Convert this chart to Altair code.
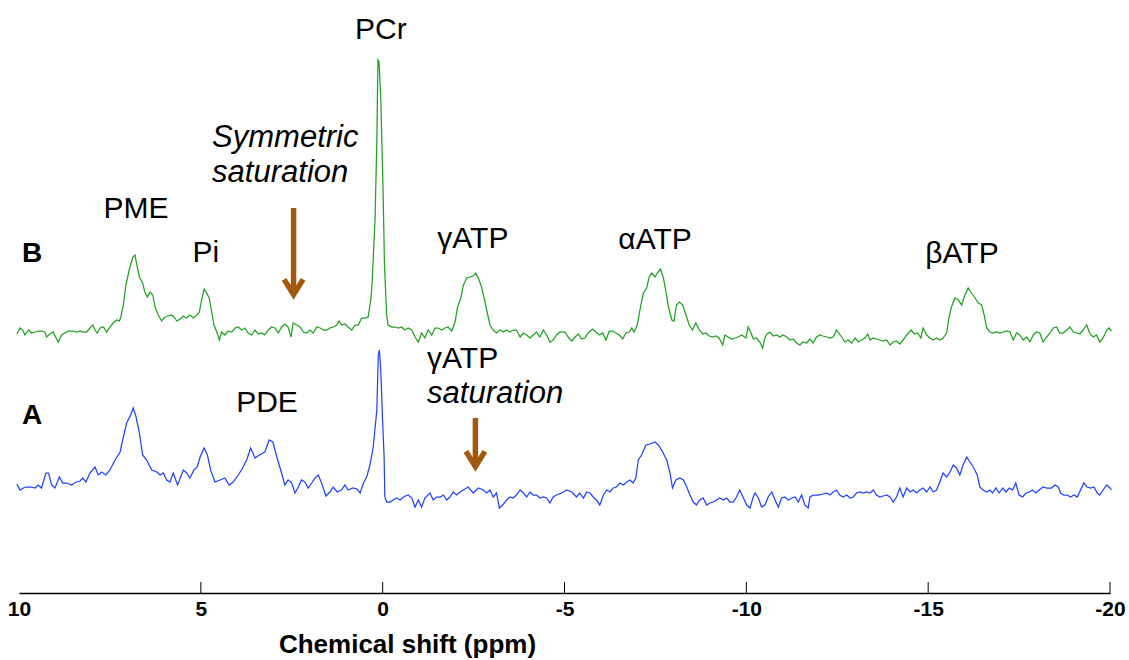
import altair as alt
import pandas as pd

# 31P spectra: chemical shift (ppm) and signal (a.u., baseline-referenced)
green_ppm = [
    10.06, 9.97, 9.88, 9.84, 9.74, 9.65, 9.56, 9.47, 9.38, 9.29,
    9.24, 9.15, 9.06, 8.98, 8.92, 8.83, 8.74, 8.64, 8.51, 8.41,
    8.32, 8.23, 8.14, 8.05, 7.97, 7.91, 7.85, 7.77, 7.68, 7.59,
    7.50, 7.41, 7.31, 7.24, 7.20, 7.13, 7.06, 6.97, 6.87, 6.81,
    6.76, 6.69, 6.60, 6.54, 6.47, 6.40, 6.32, 6.26, 6.17, 6.08,
    5.99, 5.90, 5.80, 5.74, 5.66, 5.57, 5.48, 5.39, 5.30, 5.21,
    5.11, 5.04, 4.98, 4.91, 4.84, 4.77, 4.70, 4.64, 4.56, 4.49,
    4.43, 4.34, 4.25, 4.15, 4.06, 3.97, 3.88, 3.79, 3.70, 3.60,
    3.51, 3.42, 3.33, 3.24, 3.15, 3.05, 2.96, 2.87, 2.78, 2.69,
    2.60, 2.52, 2.46, 2.36, 2.27, 2.18, 2.09, 2.00, 1.91, 1.81,
    1.72, 1.63, 1.54, 1.45, 1.36, 1.26, 1.20, 1.13, 1.04, 0.95,
    0.85, 0.76, 0.67, 0.58, 0.49, 0.40, 0.32, 0.29, 0.21, 0.16,
    0.13, 0.10, 0.05, -0.01, -0.05, -0.11, -0.15, -0.25, -0.34, -0.43,
    -0.52, -0.61, -0.70, -0.80, -0.89, -0.98, -1.07, -1.16, -1.25, -1.35,
    -1.44, -1.53, -1.62, -1.71, -1.80, -1.90, -1.99, -2.06, -2.15, -2.22,
    -2.31, -2.40, -2.49, -2.56, -2.63, -2.72, -2.79, -2.86, -2.95, -3.04,
    -3.13, -3.23, -3.32, -3.41, -3.50, -3.59, -3.68, -3.78, -3.87, -3.96,
    -4.05, -4.14, -4.23, -4.32, -4.42, -4.51, -4.60, -4.69, -4.78, -4.87,
    -5.01, -5.10, -5.20, -5.29, -5.38, -5.47, -5.56, -5.65, -5.77, -5.86,
    -5.96, -6.05, -6.14, -6.23, -6.32, -6.41, -6.51, -6.60, -6.69, -6.78,
    -6.85, -6.91, -7.00, -7.09, -7.17, -7.26, -7.33, -7.40, -7.49, -7.55,
    -7.64, -7.72, -7.79, -7.86, -7.95, -8.01, -8.08, -8.16, -8.25, -8.34,
    -8.43, -8.52, -8.61, -8.71, -8.80, -8.89, -8.98, -9.07, -9.16, -9.25,
    -9.35, -9.41, -9.50, -9.60, -9.69, -9.78, -9.87, -9.99, -10.05, -10.12,
    -10.19, -10.28, -10.37, -10.45, -10.51, -10.57, -10.65, -10.74, -10.83, -10.92,
    -11.01, -11.11, -11.20, -11.29, -11.38, -11.47, -11.56, -11.66, -11.75, -11.84,
    -11.93, -12.02, -12.11, -12.21, -12.30, -12.39, -12.48, -12.62, -12.71, -12.80,
    -12.90, -12.99, -13.08, -13.17, -13.26, -13.34, -13.40, -13.49, -13.58, -13.67,
    -13.76, -13.86, -13.95, -14.04, -14.13, -14.22, -14.31, -14.41, -14.53, -14.62,
    -14.71, -14.80, -14.86, -14.96, -15.05, -15.14, -15.23, -15.32, -15.41, -15.51,
    -15.57, -15.64, -15.74, -15.83, -15.92, -16.01, -16.10, -16.19, -16.29, -16.38,
    -16.47, -16.54, -16.61, -16.70, -16.79, -16.88, -16.97, -17.06, -17.16, -17.25,
    -17.34, -17.43, -17.52, -17.61, -17.71, -17.80, -17.89, -17.98, -18.07, -18.16,
    -18.26, -18.35, -18.44, -18.53, -18.62, -18.71, -18.81, -18.90, -18.99, -19.08,
    -19.17, -19.26, -19.36, -19.45, -19.54, -19.63, -19.72, -19.81, -19.91, -19.97,
    -20.04,
]
green_int = [
    -4, 2, -1, -5, 0, -3, -2, -1, -1, -2,
    -7, -4, -2, -8, -12, -5, -3, -1, -1, -2,
    -1, -2, -2, 2, 5, 0, -3, 2, 3, -2,
    3, 7, 10, 9, 13, 25, 45, 60, 73, 75,
    65, 53, 47, 38, 33, 38, 35, 23, 15, 9,
    13, 14, 15, 13, 9, 11, 14, 12, 15, 12,
    15, 18, 30, 41, 37, 32, 18, 5, -2, -10,
    -2, -5, -1, -2, 2, 3, 0, 2, -3, -5,
    0, -4, -3, -5, 0, 3, 2, -3, 3, 6,
    3, -7, 7, 5, 3, -2, -3, 0, -3, 3,
    2, 0, 0, 2, 3, 5, 9, 5, 6, 3,
    0, 5, 5, 12, 12, 13, 32, 48, 110, 190,
    270, 268, 230, 140, 65, 15, 5, 3, 3, 2,
    3, 0, 2, 0, -7, -12, -3, -8, 0, -5,
    2, 2, 0, 2, 3, -1, 8, 23, 32, 45,
    52, 53, 54, 57, 52, 43, 32, 20, 5, 0,
    -3, 0, -2, 0, -2, 0, 0, -7, -3, -5,
    -8, -5, -2, -7, 0, -5, -12, -10, -5, -2,
    -2, -7, -11, -7, -4, -9, -8, -3, 1, -2,
    -5, -3, -10, -1, -1, -3, -5, -9, -3, -2,
    2, -2, 5, 23, 37, 42, 53, 57, 53, 57,
    61, 52, 38, 23, 10, 9, 25, 28, 25, 15,
    5, 0, 7, 0, -4, -3, -6, -7, -6, -8,
    -15, -5, -7, -9, -8, -7, -5, -8, 3, -2,
    -9, -8, -12, -18, -8, -4, -2, -6, -5, -7,
    -5, -7, -10, -9, -13, -15, -12, -13, -9, -13,
    -7, -5, -6, -7, -8, -7, 0, -7, -12, -10,
    -13, -8, -12, -10, -8, -4, -10, -8, -9, -10,
    -11, -10, -15, -12, -11, -14, -10, -5, 0, -4,
    -3, -8, 2, -5, -8, -10, -8, -10, -8, -3,
    12, 23, 32, 30, 25, 35, 42, 37, 32, 27,
    25, 15, 2, -2, -3, -2, -3, -2, -1, -2,
    -10, -3, -5, -10, -7, -12, -5, -2, -3, -12,
    -7, -3, 2, 3, -3, -3, 0, 3, -2, -3,
    -4, 0, 5, -4, -7, -5, -12, -8, 0, 2,
    -1,
]

blue_ppm = [
    10.06, 9.97, 9.88, 9.79, 9.65, 9.56, 9.47, 9.38, 9.26, 9.19,
    9.10, 9.01, 8.89, 8.80, 8.69, 8.55, 8.43, 8.32, 8.25, 8.16,
    8.05, 7.91, 7.82, 7.73, 7.61, 7.50, 7.36, 7.22, 7.15, 7.04,
    6.93, 6.86, 6.78, 6.69, 6.60, 6.49, 6.35, 6.21, 6.12, 6.03,
    5.94, 5.85, 5.76, 5.64, 5.48, 5.39, 5.30, 5.19, 5.10, 5.02,
    4.91, 4.82, 4.73, 4.61, 4.47, 4.34, 4.22, 4.11, 3.97, 3.85,
    3.74, 3.63, 3.51, 3.39, 3.24, 3.12, 3.02, 2.91, 2.78, 2.69,
    2.60, 2.50, 2.41, 2.32, 2.23, 2.14, 2.05, 1.95, 1.86, 1.77,
    1.68, 1.56, 1.45, 1.36, 1.25, 1.13, 1.04, 0.95, 0.82, 0.71,
    0.62, 0.53, 0.44, 0.35, 0.26, 0.16, 0.12, 0.09, 0.05, 0.00,
    -0.04, -0.06, -0.11, -0.20, -0.29, -0.38, -0.48, -0.57, -0.70, -0.80,
    -0.89, -0.98, -1.07, -1.16, -1.30, -1.39, -1.48, -1.58, -1.67, -1.76,
    -1.85, -1.94, -2.03, -2.13, -2.22, -2.35, -2.49, -2.63, -2.77, -2.86,
    -2.95, -3.04, -3.13, -3.21, -3.30, -3.41, -3.50, -3.59, -3.68, -3.78,
    -3.87, -3.96, -4.05, -4.14, -4.23, -4.32, -4.42, -4.51, -4.60, -4.69,
    -4.78, -4.92, -5.06, -5.20, -5.33, -5.42, -5.52, -5.61, -5.70, -5.79,
    -5.88, -5.97, -6.07, -6.16, -6.25, -6.34, -6.43, -6.52, -6.62, -6.71,
    -6.80, -6.89, -6.96, -7.03, -7.12, -7.24, -7.35, -7.49, -7.58, -7.70,
    -7.81, -7.90, -7.97, -8.06, -8.17, -8.27, -8.36, -8.45, -8.54, -8.63,
    -8.72, -8.81, -8.91, -9.00, -9.09, -9.18, -9.27, -9.37, -9.46, -9.55,
    -9.64, -9.73, -9.82, -9.92, -10.01, -10.10, -10.19, -10.24, -10.33, -10.42,
    -10.51, -10.60, -10.70, -10.79, -10.88, -10.97, -11.06, -11.15, -11.25, -11.34,
    -11.43, -11.52, -11.61, -11.70, -11.75, -11.84, -11.98, -12.11, -12.21, -12.30,
    -12.39, -12.48, -12.57, -12.66, -12.76, -12.85, -12.94, -13.03, -13.12, -13.21,
    -13.31, -13.40, -13.49, -13.58, -13.67, -13.76, -13.86, -13.95, -14.04, -14.13,
    -14.22, -14.31, -14.41, -14.50, -14.59, -14.68, -14.77, -14.86, -14.96, -15.05,
    -15.14, -15.23, -15.32, -15.41, -15.51, -15.60, -15.69, -15.78, -15.87, -15.96,
    -16.06, -16.15, -16.24, -16.35, -16.42, -16.51, -16.61, -16.70, -16.77, -16.86,
    -16.95, -17.05, -17.14, -17.23, -17.32, -17.41, -17.50, -17.60, -17.69, -17.78,
    -17.87, -17.96, -18.05, -18.16, -18.26, -18.39, -18.49, -18.58, -18.64, -18.73,
    -18.82, -18.92, -19.01, -19.10, -19.19, -19.28, -19.37, -19.47, -19.56, -19.65,
    -19.72, -19.81, -19.91, -20.00, -20.04,
]
blue_int = [
    8, 2, 4, 5, 5, 4, 7, 4, 19, 19,
    7, 4, 15, 9, 9, 7, 10, 11, 14, 10,
    19, 25, 17, 20, 17, 22, 32, 40, 52, 69,
    77, 84, 75, 59, 37, 32, 22, 20, 17, 19,
    12, 10, 19, 7, 22, 19, 14, 22, 25, 35,
    44, 37, 22, 10, 12, 14, 7, 10, 17, 24,
    32, 44, 34, 37, 40, 52, 50, 35, 19, 7,
    12, 9, -1, 5, 12, 10, 4, 9, 14, 17,
    9, -4, 0, 5, 0, 2, 7, 2, 4, 3,
    -1, 9, 15, 27, 45, 82, 137, 142, 120, 69,
    35, -5, -10, -10, -8, -6, -8, -5, -3, -6,
    -15, -8, -15, -6, -1, -8, -5, -5, -3, -8,
    -5, 0, -3, 0, 2, 5, -1, 4, 2, -1,
    2, -5, -1, -16, -13, -8, -5, -6, -3, 2,
    -1, -5, 0, -3, -3, -6, -5, -6, -11, -5,
    -3, -1, 2, 0, -5, -1, -6, 0, -1, -5,
    -8, -13, -3, 2, 0, 4, 5, 9, 7, 10,
    12, 9, 14, 32, 37, 47, 48, 50, 47, 40,
    32, 19, 4, 12, 14, 12, 5, -3, -10, -13,
    -8, -6, -13, -11, -10, -8, -6, -8, -6, -10,
    -10, -5, 2, -6, -13, -16, -5, -1, -6, -15,
    -13, -5, 0, -8, -15, -6, -5, -8, -6, -5,
    -10, -3, -13, -16, -5, -3, -3, -2, -1, -3,
    0, 2, -3, -5, -3, -6, -5, -1, 0, -1,
    0, -1, 2, -3, -5, -4, -3, -5, -10, -5,
    4, -5, 4, 0, 2, -1, 2, 4, 0, 5,
    0, 2, 10, 19, 15, 20, 27, 24, 17, 27,
    35, 30, 25, 17, 5, 2, 0, 2, -1, 4,
    -1, 4, 0, 4, 2, 9, -3, -5, -1, 0,
    2, -1, 2, 5, 4, 4, 7, 5, -1, -3,
    -3, -5, -3, -5, 2, 9, 5, 4, 5, -1,
    -3, 2, 7, 4, 2,
]

# vertical stacking offsets of the two spectra (a.u.)
offset_b = 263
offset_a = 101

# peak assignments
peak_labels = ["PCr", "PME", "Pi", "γATP", "αATP", "βATP", "PDE"]
peak_ppm = [0.05, 6.78, 4.86, -2.48, -7.49, -15.93, 3.18]
peak_level = [554, 375, 331, 345, 344, 330, 181]

panel_labels = ["B", "A"]
panel_ppm = [9.92, 9.92]
panel_level = [331, 169]

# saturation notes (left aligned)
note_text = ["Symmetric", "saturation", "γATP", "saturation"]
note_ppm = [4.69, 4.69, -1.22, -1.22]
note_level = [446, 411, 225, 190]
note_style = ["italic", "italic", "normal", "italic"]

# saturation frequencies marked by arrows
arrow_ppm = [2.45, -2.55]
arrow_from = [385, 175]
arrow_to = [298, 126]

tick_values = [10, 5, 0, -5, -10, -15, -20]
tick_marks = [5, 0, -5, -10, -15, -20]

GREEN = "#22a022"
BLUE = "#2343ff"
BROWN = "#a3580f"
FONT = "Liberation Sans"

W, H = 1091, 593

assert len(green_ppm) == len(green_int)
assert len(blue_ppm) == len(blue_int)

spec = pd.concat([
    pd.DataFrame({"ppm": green_ppm, "v": [g + offset_b for g in green_int],
                  "spectrum": "B", "idx": range(len(green_ppm))}),
    pd.DataFrame({"ppm": blue_ppm, "v": [b + offset_a for b in blue_int],
                  "spectrum": "A", "idx": range(len(blue_ppm))}),
])

x_scale = alt.Scale(domain=[-20, 10], reverse=True, nice=False, zero=False)
y_scale = alt.Scale(domain=[0, H], nice=False, zero=False)

x_axis = alt.Axis(
    values=tick_values, labelExpr="toString(datum.value)",
    ticks=False, grid=False, domainColor="black", domainWidth=1.5,
    labelFont=FONT, labelFontWeight="bold", labelFontSize=21,
    labelColor="black", labelPadding=5, labelFlush=False, labelOverlap=False,
    title="Chemical shift (ppm)", titleFont=FONT, titleFontWeight="bold",
    titleFontSize=26, titleColor="black", titleX=388, titleY=51,
    titleBaseline="middle",
)
x_enc = alt.X("ppm:Q", scale=x_scale, axis=x_axis)
y_enc = alt.Y("v:Q", scale=y_scale, axis=None)

lines = alt.Chart(spec).mark_line(strokeWidth=1.25).encode(
    x=x_enc, y=y_enc,
    color=alt.Color("spectrum:N", scale=alt.Scale(domain=["B", "A"], range=[GREEN, BLUE]),
                    legend=None),
    order="idx:Q",
)

ticks = alt.Chart(pd.DataFrame({"ppm": tick_marks})).mark_rule(
    color="black", strokeWidth=1).encode(
    x=x_enc, y=alt.YDatum(0, scale=y_scale, axis=None), y2=alt.Y2Datum(11))

peaks = alt.Chart(pd.DataFrame({"ppm": peak_ppm, "v": peak_level, "t": peak_labels})).mark_text(
    font=FONT, fontSize=30, align="center", baseline="alphabetic", color="black").encode(
    x=x_enc, y=y_enc, text="t:N")

panels = alt.Chart(pd.DataFrame({"ppm": panel_ppm, "v": panel_level, "t": panel_labels})).mark_text(
    font=FONT, fontSize=28, fontWeight="bold", align="left", baseline="alphabetic",
    color="black").encode(x=x_enc, y=y_enc, text="t:N")

notes_df = pd.DataFrame({"ppm": note_ppm, "v": note_level, "t": note_text, "s": note_style})
notes_italic = alt.Chart(notes_df[notes_df.s == "italic"]).mark_text(
    font=FONT, fontSize=31, fontStyle="italic", align="left", baseline="alphabetic",
    color="black").encode(x=x_enc, y=y_enc, text="t:N")
notes_plain = alt.Chart(notes_df[notes_df.s == "normal"]).mark_text(
    font=FONT, fontSize=30, align="left", baseline="alphabetic",
    color="black").encode(x=x_enc, y=y_enc, text="t:N")

arrows_df = pd.DataFrame({"ppm": arrow_ppm, "top": arrow_from, "tip": arrow_to})
shafts = alt.Chart(arrows_df).mark_rule(color=BROWN, strokeWidth=5.5, strokeCap="butt").encode(
    x=x_enc, y=alt.Y("top:Q", scale=y_scale, axis=None), y2=alt.Y2("tip:Q"))
heads = alt.Chart(arrows_df).transform_calculate(c="datum.tip + 8").mark_point(
    shape="M-1,-0.8L0,0.8L1,-0.8", size=361, filled=False, stroke=BROWN,
    strokeWidth=5.5, strokeJoin="miter", opacity=1).encode(
    x=x_enc, y=alt.Y("c:Q", scale=y_scale, axis=None))

chart = alt.layer(
    lines, ticks, peaks, panels, notes_italic, notes_plain, shafts, heads
).properties(
    width=W, height=H,
    padding={"left": 19, "top": 0, "right": 19, "bottom": 67},
    autosize=alt.AutoSizeParams(type="none"),
).configure_view(strokeWidth=0)

chart.save("out.html", embed_options={"renderer": "svg", "actions": False})
